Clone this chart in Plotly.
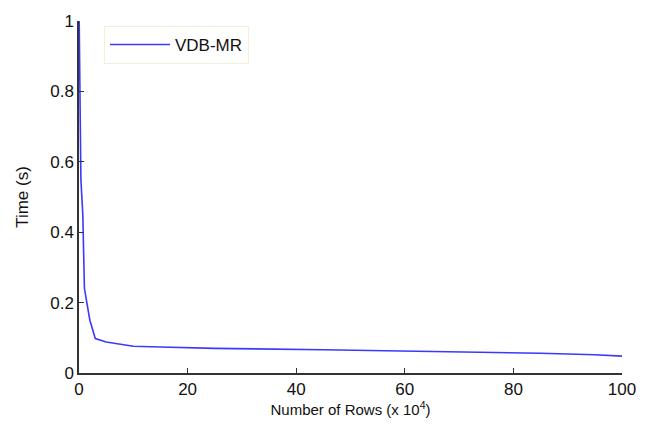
import plotly.graph_objects as go

rows = [0.0, 0.15, 0.35, 0.7, 1.0, 2.0, 3.0, 5.0, 8.0, 10, 15, 25, 45, 65, 75, 85, 95, 100]
time_s = [1.05, 0.85, 0.55, 0.45, 0.24, 0.15, 0.098, 0.088, 0.080, 0.076, 0.074, 0.070, 0.066, 0.062, 0.059, 0.056, 0.052, 0.048]

FONT = "Liberation Sans, Arial, sans-serif"

fig = go.Figure()
fig.add_trace(go.Scatter(x=rows, y=time_s, mode="lines", name="VDB-MR",
                         line=dict(color="#3a3aff", width=1.6)))

axis_common = dict(showgrid=False, zeroline=False, showline=True, linecolor="#333333",
                   linewidth=1.5, ticks="inside", ticklen=5, tickcolor="#333333",
                   tickfont=dict(family=FONT, size=17, color="#111111"),
                   mirror=False)

fig.update_layout(
    width=653, height=437,
    margin=dict(l=79, r=31, t=17, b=64),
    paper_bgcolor="white", plot_bgcolor="white",
    font=dict(family=FONT, size=15, color="#111111"),
    xaxis=dict(range=[0, 100], tickvals=[0, 20, 40, 60, 80, 100],
               title=dict(text="Number of Rows (x 10<sup>4</sup>)", standoff=5,
                          font=dict(size=15)), **axis_common),
    yaxis=dict(range=[0, 1], tickvals=[0, 0.2, 0.4, 0.6, 0.8, 1],
               ticktext=["0", "0.2", "0.4", "0.6", "0.8", "1"],
               title=dict(text="Time (s)", standoff=17, font=dict(size=17)), **axis_common),
    showlegend=True,
    legend=dict(x=0.046, y=0.986, xanchor="left", yanchor="top",
                bgcolor="white", bordercolor="#f2f0d8", borderwidth=1,
                font=dict(size=17), itemwidth=60),
)

fig.write_html("out.html")
